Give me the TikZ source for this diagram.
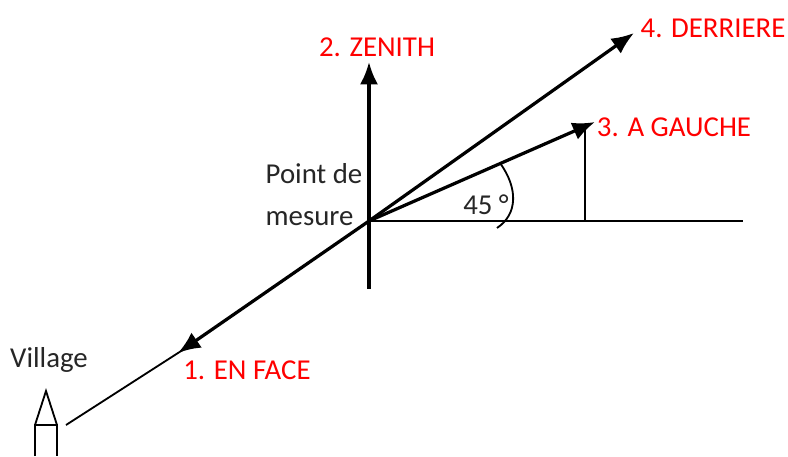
\documentclass[tikz,border=0pt]{standalone}
\usepackage{fontspec}
\setmainfont{Carlito}
\usetikzlibrary{arrows.meta, positioning, calc}

\begin{document}
\begin{tikzpicture}[
  font=\fontsize{20.5}{30}\selectfont,
  fin/.style={draw=black, line width=1.3pt},
  fort/.style={draw=black, line width=2.3pt},
  vecteur/.style={fort, -{Latex[length=16pt, width=13pt]}},
  rouge/.style={inner sep=0pt, text=red},
  noir/.style={inner sep=0pt, text=black!85}
]
\useasboundingbox (0,0) rectangle (19.7,11.4);

% Points de la figure
\coordinate (mesure) at (9.225,5.875);
\coordinate (zenith) at (9.225,9.85);
\coordinate (zenithbas) at (9.225,4.175);
\coordinate (face) at (4.45,2.575);
\coordinate (gauche) at (14.875,8.35);
\coordinate (derriere) at (15.85,10.575);
\coordinate (horizon) at (18.575,5.875);
\coordinate (pied) at (14.625,5.875);
\coordinate (piedhaut) at (14.625,8.275);
\coordinate (visee) at (1.65,0.775);

% Village
\coordinate (pointe) at (1.15,1.625);
\coordinate (toitg) at (0.875,0.775);
\coordinate (toitd) at (1.425,0.775);
\coordinate (mursg) at (0.875,0);
\coordinate (mursd) at (1.425,0);
\draw[fin] (toitg) -- (pointe) -- (toitd);
\draw[fin] (mursg) -- (toitg) -- (toitd) -- (mursd);

% Lignes fines
\draw[fin] (mesure) -- (horizon);
\draw[fin] (pied) -- (piedhaut);
\draw[fin, shorten <=-6pt] (face) -- (visee);

% Vecteurs
\draw[fort] (mesure) -- (zenithbas);
\draw[vecteur] (mesure) -- (zenith);
\draw[vecteur] (mesure) -- (face);
\draw[vecteur] (mesure) -- (gauche);
\draw[vecteur] (mesure) -- (derriere);

% Angle
\coordinate (arcA) at (12.5,7.325);
\coordinate (arcB) at (12.425,5.7);
\draw[fin] (arcA) .. controls (12.95,6.7) and (12.95,6.05) .. (arcB);

\node[noir] (angle) at (12.15,6.275) {45 °};
\node[noir, align=left] (point) at (7.85,6.525) {Point de\\mesure};
\node[noir] (village) at (1.225,2.4) {Village};

\node[rouge] (n1) at (6.175,2.15) {1. EN FACE};
\node[rouge] (n2) at (9.425,10.225) {2. ZENITH};
\node[rouge] (n3) at (16.85,8.225) {3. A GAUCHE};
\node[rouge] (n4) at (17.825,10.7) {4. DERRIERE};

\end{tikzpicture}
\end{document}
